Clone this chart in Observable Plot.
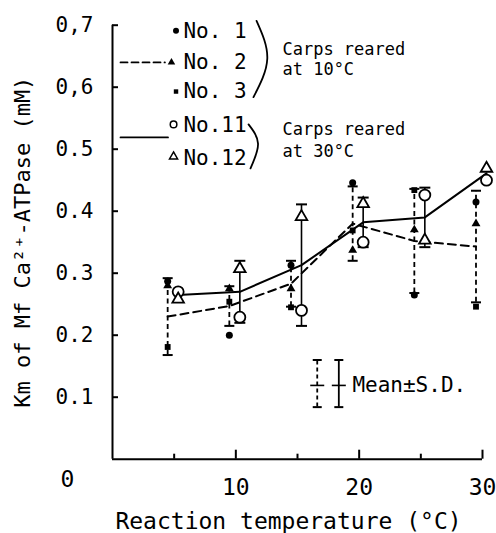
<!DOCTYPE html>
<html><head><meta charset="utf-8">
<script src="https://cdn.jsdelivr.net/npm/d3@7"></script>
<script src="https://cdn.jsdelivr.net/npm/@observablehq/plot@0.6"></script>
<style>body{margin:0;background:#fff}</style>
</head><body><div id="chart"></div>
<script>
// ---- data ----
const temps = [5, 10, 15, 20, 25, 30];
// carps reared at 10°C (dashed)
const mean10 = [0.230, 0.247, 0.283, 0.380, 0.352, 0.343];
const sd10   = [0.062, 0.032, 0.037, 0.060, 0.084, 0.090];
const no1    = [0.287, 0.200, 0.313, 0.446, 0.265, 0.415];
const no2    = [0.280, 0.275, 0.275, 0.337, 0.370, 0.380];
const no3    = [0.181, 0.254, 0.245, 0.369, 0.434, 0.246];
// carps reared at 30°C (solid)
const mean30 = [0.265, 0.270, 0.313, 0.382, 0.390, 0.461];
const sd30   = [0, 0.050, 0.098, 0.040, 0.048, 0];
const no11   = [0.270, 0.229, 0.240, 0.350, 0.426, 0.450];
const no12   = [0.258, 0.307, 0.391, 0.412, 0.353, 0.469];

const yTicks = [0.1, 0.2, 0.3, 0.4, 0.5, 0.6, 0.7];
const yTickLabels = ["0.1", "0.2", "0.3", "0.4", "0.5", "0,6", "0,7"];
const xMajor = [10, 20, 30];
const xMinor = [5, 15, 25];
const legendNames = ["No. 1", "No. 2", "No. 3", "No.11", "No.12"];

// ---- derived tables ----
const g10 = temps.map((t, i) => ({t, mean: mean10[i], sd: sd10[i]}));
const g30 = temps.map((t, i) => ({t, mean: mean30[i], sd: sd30[i]}));
const caps = g => g.filter(d => d.sd > 0).flatMap(d => [{t: d.t, y: d.mean - d.sd}, {t: d.t, y: d.mean + d.sd}]);
const pts = (arr) => temps.map((t, i) => ({t, v: arr[i]}));

const capSymbol = {draw(ctx, size) { const r = Math.sqrt(size / Math.PI); ctx.moveTo(-r, 0); ctx.lineTo(r, 0); }};

const DX10 = -6.5, DX30 = 4;
const FONT = "DejaVu Sans Mono";

// legend layout (data units)
const L = {
  dashLine: [{x: 0.65, y: 0.640}, {x: 4.25, y: 0.640}],
  solidLine: [{x: 0.65, y: 0.519}, {x: 4.5, y: 0.519}],
  markY: [0.691, 0.640, 0.593, 0.540, 0.488],
  markX: [5.15, 4.78, 5.15, 4.95, 4.95],
  textX: 5.75,
  textY: [0.691, 0.640, 0.593, 0.538, 0.485],
  br1: [{x: 11.68, y: 0.707}, {x: 12.55, y: 0.646}, {x: 11.43, y: 0.584}],
  br2: [{x: 11.03, y: 0.540}, {x: 11.8, y: 0.509}, {x: 11.19, y: 0.469}],
  carpX: 13.78,
  carpY: [0.661, 0.629, 0.532, 0.496],
  sdX: [16.6, 18.35], sdY: [0.084, 0.160], sdMid: 0.119, sdTextX: 19.45
};
const carpTexts = ["Carps reared", "at 10°C", "Carps reared", "at 30°C"];

const plot = Plot.plot({
  width: 496, height: 533,
  marginLeft: 112, marginRight: 14, marginTop: 24.7, marginBottom: 74.3,
  x: {domain: [0, 30]},
  y: {domain: [0, 0.7]},
  style: {fontFamily: FONT, background: "white", color: "black"},
  marks: [
    // axes
    Plot.ruleX([0], {strokeWidth: 2}),
    Plot.ruleY([0], {strokeWidth: 2}),
    Plot.axisY({ticks: yTicks, tickFormat: d => yTickLabels[Math.round(d * 10) - 1], tickSize: -6, tickPadding: 25, fontSize: 21, strokeWidth: 2, label: null}),
    Plot.axisX({ticks: xMajor, tickSize: -9, tickPadding: 28, fontSize: 23, strokeWidth: 2, label: null}),
    Plot.axisX({ticks: xMinor, tickSize: -5, tickFormat: () => "", strokeWidth: 2, label: null}),
    Plot.text(["0"], {frameAnchor: "bottom-left", dx: -52, dy: 28, fontSize: 23}),
    Plot.text(["Reaction temperature (°C)"], {frameAnchor: "bottom", lineAnchor: "middle", dx: -9, dy: 62, fontSize: 23}),
    Plot.text(["Km of Mf Ca²⁺-ATPase (mM)"], {frameAnchor: "left", textAnchor: "middle", lineAnchor: "middle", dx: -90, rotate: -90, fontSize: 22}),

    // mean lines
    Plot.line(g10, {x: "t", y: "mean", dx: DX10, strokeDasharray: "8,5", strokeWidth: 2}),
    Plot.line(g30, {x: "t", y: "mean", dx: DX30, strokeWidth: 2}),
    // error bars
    Plot.ruleX(g10, {x: "t", y1: d => d.mean - d.sd, y2: d => d.mean + d.sd, dx: DX10, strokeDasharray: "5,3.5", strokeWidth: 1.8}),
    Plot.ruleX(g30.filter(d => d.sd > 0), {x: "t", y1: d => d.mean - d.sd, y2: d => d.mean + d.sd, dx: DX30, strokeWidth: 1.6}),
    Plot.dot(caps(g10), {x: "t", y: "y", dx: DX10, symbol: capSymbol, r: 5, fill: "none", stroke: "black", strokeWidth: 2}),
    Plot.dot(caps(g30), {x: "t", y: "y", dx: DX30, symbol: capSymbol, r: 5.5, fill: "none", stroke: "black", strokeWidth: 2}),
    // individual points
    Plot.dot(pts(no11), {x: "t", y: "v", dx: DX30, symbol: "circle", r: 5.5, fill: "white", stroke: "black", strokeWidth: 1.8}),
    Plot.dot(pts(no12), {x: "t", y: "v", dx: DX30, symbol: "triangle", r: 4.3, fill: "white", stroke: "black", strokeWidth: 1.8}),
    Plot.dot(pts(no1), {x: "t", y: "v", dx: DX10, symbol: "circle", r: 3.5, fill: "black"}),
    Plot.dot(pts(no2), {x: "t", y: "v", dx: DX10, symbol: "triangle", r: 3.3, fill: "black"}),
    Plot.dot(pts(no3), {x: "t", y: "v", dx: DX10, symbol: "square", r: 3.3, fill: "black"}),

    // legend: series
    Plot.line(L.dashLine, {x: "x", y: "y", strokeDasharray: "7,4", strokeWidth: 1.8}),
    Plot.line(L.solidLine, {x: "x", y: "y", strokeWidth: 1.8}),
    Plot.dot([0], {x: L.markX[0], y: L.markY[0], symbol: "circle", r: 3, fill: "black"}),
    Plot.dot([0], {x: L.markX[1], y: L.markY[1], symbol: "triangle", r: 2.8, fill: "black"}),
    Plot.dot([0], {x: L.markX[2], y: L.markY[2], symbol: "square", r: 2.5, fill: "black"}),
    Plot.dot([0], {x: L.markX[3], y: L.markY[3], symbol: "circle", r: 3.3, fill: "white", stroke: "black", strokeWidth: 1.5}),
    Plot.dot([0], {x: L.markX[4], y: L.markY[4], symbol: "triangle", r: 3, fill: "white", stroke: "black", strokeWidth: 1.5}),
    Plot.text(legendNames, {x: L.textX, y: (d, i) => L.textY[i], text: d => d, textAnchor: "start", fontSize: 21}),
    Plot.line(L.br1, {x: "x", y: "y", curve: "natural", strokeWidth: 1.8}),
    Plot.line(L.br2, {x: "x", y: "y", curve: "natural", strokeWidth: 1.8}),
    Plot.text(carpTexts, {x: L.carpX, y: (d, i) => L.carpY[i], text: d => d, textAnchor: "start", fontSize: 17}),

    // legend: Mean ± S.D.
    Plot.ruleX([0], {x: L.sdX[0], y1: L.sdY[0], y2: L.sdY[1], strokeDasharray: "4,3", strokeWidth: 1.8}),
    Plot.ruleX([0], {x: L.sdX[1], y1: L.sdY[0], y2: L.sdY[1], strokeWidth: 1.8}),
    Plot.dot([0, 1].flatMap(i => [{x: L.sdX[i], y: L.sdY[0]}, {x: L.sdX[i], y: L.sdY[1]}]), {x: "x", y: "y", symbol: capSymbol, r: 4.5, fill: "none", stroke: "black", strokeWidth: 2}),
    Plot.dot([0, 1].map(i => ({x: L.sdX[i], y: L.sdMid})), {x: "x", y: "y", symbol: capSymbol, r: 7, fill: "none", stroke: "black", strokeWidth: 1.6}),
    Plot.text(["Mean±S.D."], {x: L.sdTextX, y: L.sdMid, textAnchor: "start", fontSize: 21})
  ]
});
document.getElementById("chart").appendChild(plot);
</script>
</body></html>
